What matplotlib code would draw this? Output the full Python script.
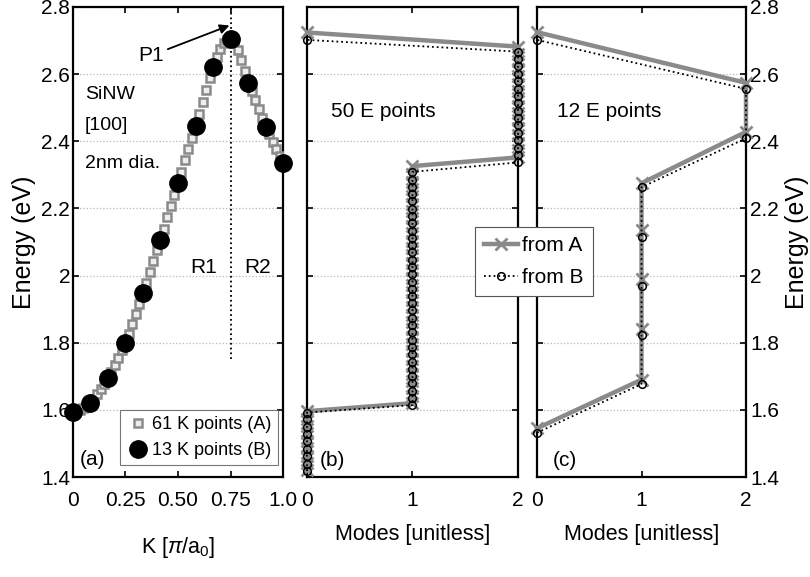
import matplotlib
matplotlib.use("Agg")
import matplotlib.pyplot as plt
from matplotlib.ticker import FuncFormatter, FixedLocator

plt.rcParams['font.family'] = ['Liberation Sans', 'DejaVu Sans']
plt.rcParams['mathtext.fontset'] = 'custom'
plt.rcParams['mathtext.rm'] = 'Liberation Sans'
plt.rcParams['mathtext.it'] = 'Liberation Sans:italic'

# ---------------- panel (a): band dispersion ----------------
k_fine = [i / 60 for i in range(61)]
e_fine = [1.594, 1.596, 1.600, 1.606, 1.612, 1.620, 1.633, 1.647, 1.662, 1.678,
          1.694, 1.713, 1.733, 1.754, 1.777, 1.800, 1.827, 1.855, 1.885, 1.916,
          1.947, 1.979, 2.011, 2.043, 2.075, 2.106, 2.140, 2.174, 2.208, 2.241,
          2.275, 2.309, 2.343, 2.377, 2.411, 2.445, 2.480, 2.516, 2.552, 2.588,
          2.622, 2.650, 2.674, 2.692, 2.703, 2.706, 2.696, 2.673, 2.643, 2.610,
          2.575, 2.549, 2.523, 2.497, 2.470, 2.443, 2.421, 2.399, 2.377, 2.355,
          2.334]
k_coarse = [0, 1/12, 2/12, 3/12, 4/12, 5/12, 6/12, 7/12, 8/12, 9/12, 10/12, 11/12, 1]
e_coarse = [1.594, 1.620, 1.694, 1.800, 1.947, 2.106, 2.275, 2.445, 2.622, 2.704,
            2.575, 2.443, 2.334]
divider_k = [0.75, 0.75]
divider_e = [1.75, 2.80]

# ---------------- panel (b): 50 E points ----------------
modes_b = [0, 0, 0, 0, 0, 0, 0, 0, 0,
           1, 1, 1, 1, 1, 1, 1, 1, 1, 1, 1, 1, 1, 1, 1, 1, 1,
           1, 1, 1, 1, 1, 1, 1, 1, 1, 1, 1, 1, 1, 1, 1, 1,
           2, 2, 2, 2, 2, 2, 2, 2, 2, 2, 2, 2, 2, 2, 2, 2,
           0]
e_b_from_b = [1.418, 1.440, 1.462, 1.484, 1.506, 1.528, 1.550, 1.572, 1.592,
              1.614, 1.636, 1.657, 1.679, 1.701, 1.722, 1.744, 1.766, 1.787, 1.809,
              1.831, 1.852, 1.874, 1.896, 1.917, 1.939, 1.961, 1.982, 2.004, 2.026,
              2.047, 2.069, 2.091, 2.112, 2.134, 2.156, 2.177, 2.199, 2.221, 2.242,
              2.264, 2.286, 2.309,
              2.337, 2.359, 2.381, 2.403, 2.425, 2.447, 2.469, 2.491, 2.513, 2.535,
              2.557, 2.579, 2.601, 2.623, 2.645, 2.667,
              2.702]
e_b_from_a = [1.420, 1.442, 1.464, 1.486, 1.508, 1.530, 1.552, 1.574, 1.596,
              1.620, 1.642, 1.664, 1.686, 1.708, 1.730, 1.752, 1.774, 1.796, 1.818,
              1.840, 1.862, 1.884, 1.906, 1.928, 1.950, 1.972, 1.994, 2.016, 2.038,
              2.060, 2.082, 2.104, 2.126, 2.148, 2.170, 2.192, 2.214, 2.236, 2.258,
              2.280, 2.302, 2.326,
              2.352, 2.374, 2.396, 2.418, 2.440, 2.462, 2.484, 2.506, 2.528, 2.550,
              2.572, 2.594, 2.616, 2.638, 2.660, 2.682,
              2.724]

# ---------------- panel (c): 12 E points ----------------
modes_c = [0, 1, 1, 1, 1, 1, 2, 2, 0]
e_c_from_b = [1.532, 1.677, 1.823, 1.970, 2.116, 2.263, 2.409, 2.556, 2.702]
e_c_from_a = [1.545, 1.690, 1.840, 1.990, 2.136, 2.275, 2.428, 2.574, 2.725]

e_ticks = [1.4, 1.6, 1.8, 2.0, 2.2, 2.4, 2.6, 2.8]
k_ticks = [0, 0.25, 0.5, 0.75, 1.0]
k_ticklabels = ['0', '0.25', '0.50', '0.75', '1.0']
mode_ticks = [0, 1, 2]

GRAY = '#8a8a8a'
FS = 15

fig = plt.figure(figsize=(8.1, 5.77), dpi=100)
bottom, height = 0.1733, 0.8146
ax_a = fig.add_axes([0.0901, bottom, 0.2593, height])
ax_b = fig.add_axes([0.3790, bottom, 0.2605, height])
ax_c = fig.add_axes([0.6630, bottom, 0.2580, height])

fmt = FuncFormatter(lambda v, p: '%g' % round(v, 2))

for ax in (ax_a, ax_b, ax_c):
    ax.set_ylim(1.4, 2.8)
    ax.yaxis.set_major_locator(FixedLocator(e_ticks))
    ax.yaxis.set_major_formatter(fmt)
    ax.grid(axis='y', color='#b8b8b8', linestyle=':', linewidth=0.9)
    ax.set_axisbelow(True)
    ax.tick_params(direction='in', top=True, right=True, length=4,
                   width=1.2, labelsize=FS)
    for s in ax.spines.values():
        s.set_linewidth(1.6)

# (a)
ax_a.set_xlim(0, 1)
ax_a.set_xticks(k_ticks)
ax_a.set_xticklabels(k_ticklabels)
ax_a.tick_params(axis='x', pad=10)
ax_a.tick_params(axis='y', pad=2)
ax_a.plot(divider_k, divider_e, color='k', linestyle=':', linewidth=1.3, zorder=2)
ax_a.plot(k_fine, e_fine, linestyle='none', marker='s', markersize=6,
          markerfacecolor='#eeeeee', markeredgecolor=GRAY, markeredgewidth=1.8,
          label='61 K points (A)', zorder=3)
ax_a.plot(k_coarse, e_coarse, linestyle='none', marker='o', markersize=12.5,
          color='k', label='13 K points (B)', zorder=4, clip_on=False)
ax_a.set_xlabel(r'K [$\pi$/a$_0$]', fontsize=FS + 0.5, labelpad=18)
ax_a.set_ylabel('Energy (eV)', fontsize=18, labelpad=4)
ax_a.text(0.057, 2.538, 'SiNW', fontsize=14, ha='left', va='center')
ax_a.text(0.057, 2.448, '[100]', fontsize=14, ha='left', va='center')
ax_a.text(0.057, 2.335, '2nm dia.', fontsize=14, ha='left', va='center')
ax_a.text(0.62, 2.024, 'R1', fontsize=FS, ha='center', va='center')
ax_a.text(0.877, 2.024, 'R2', fontsize=FS, ha='center', va='center')
ax_a.text(0.093, 1.451, '(a)', fontsize=FS, ha='center', va='center')
ax_a.annotate('P1', xy=(0.745, 2.745), xytext=(0.31, 2.655), fontsize=FS,
              ha='left', va='center',
              arrowprops=dict(arrowstyle='-|>', color='k', lw=1.3,
                              mutation_scale=14, shrinkA=1, shrinkB=0))
leg_a = ax_a.legend(loc='lower right', bbox_to_anchor=(0.975, 0.025),
                    borderaxespad=0, fontsize=13, frameon=True, fancybox=False,
                    edgecolor='#555555', handletextpad=0.2, handlelength=1.2,
                    borderpad=0.35, labelspacing=0.5)
leg_a.get_frame().set_linewidth(0.8)

# (b) and (c)
def mode_panel(ax, e_a, e_b, modes, label_text, tag, tag_x):
    ax.set_xlim(0, 2)
    ax.set_xticks(mode_ticks)
    ax.tick_params(axis='x', pad=10)
    la, = ax.plot(modes, e_a, color=GRAY, linewidth=3.2, marker='x',
                  markersize=8, markeredgewidth=2, label='from A', zorder=3,
                  clip_on=False)
    lb, = ax.plot(modes, e_b, color='k', linestyle=':', linewidth=1.3,
                  marker='o', markersize=5.5, markerfacecolor='none',
                  markeredgecolor='k', markeredgewidth=1.1, label='from B',
                  zorder=4, clip_on=False)
    ax.set_xlabel('Modes [unitless]', fontsize=FS + 0.5, labelpad=10)
    ax.text(tag_x, 1.45, tag, fontsize=FS, ha='center', va='center')
    ax.text(label_text[1], 2.488, label_text[0], fontsize=FS,
            ha='center', va='center')
    return la, lb

la, lb = mode_panel(ax_b, e_b_from_a, e_b_from_b, modes_b,
                    ('50 E points', 0.727), '(b)', 0.24)
ax_b.tick_params(axis='y', labelleft=False)

mode_panel(ax_c, e_c_from_a, e_c_from_b, modes_c,
           ('12 E points', 0.69), '(c)', 0.27)
ax_c.tick_params(axis='y', labelleft=False, labelright=True, pad=3)
ax_c.yaxis.set_label_position('right')
ax_c.set_ylabel('Energy (eV)', fontsize=18, labelpad=4)

leg = fig.legend(handles=[la, lb], loc='upper left',
                 bbox_to_anchor=(0.5864, 0.6066), borderaxespad=0,
                 fontsize=FS, frameon=True, fancybox=False,
                 edgecolor='#555555', framealpha=1, handlelength=1.6,
                 handletextpad=0.2, borderpad=0.45, labelspacing=0.6)
leg.get_frame().set_linewidth(0.8)

fig.savefig('out.png', dpi=100)
